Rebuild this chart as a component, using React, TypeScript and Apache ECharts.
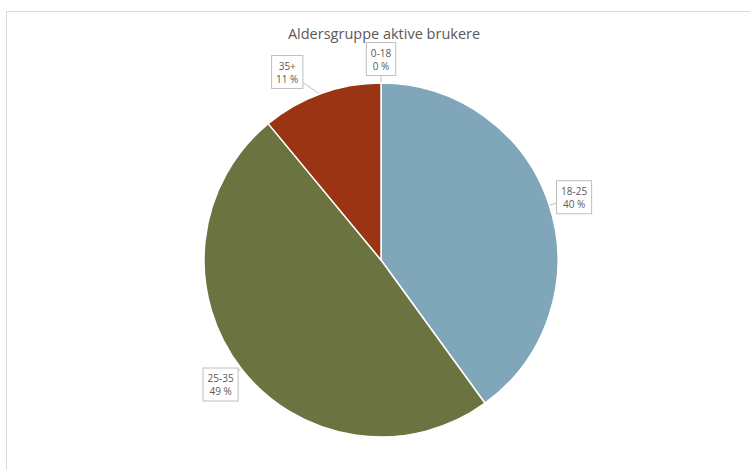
import React, { useEffect, useRef } from "react";
import * as echarts from "echarts";

const TITLE = "Aldersgruppe aktive brukere";
const categories = ["0-18", "18-25", "25-35", "35+"];
const shares = [0, 40, 49, 11];
const colors = ["#4F81BD", "#7FA7B9", "#6B7340", "#9A3412"];

const FONT = "Open Sans";
// small layout nudges for callout boxes (pixels), by category index
const LABEL_NUDGE_X = [0, 0, 0, -25];
const LABEL_NUDGE_Y = [2, 0, 0, 3];

export default function App() {
  const ref = useRef<HTMLDivElement>(null);
  useEffect(() => {
    const chart = echarts.init(ref.current!, null, { renderer: "svg" });
    const cx = 381, cy = 260, R = 177, labelR = 203;
    const total = shares.reduce((a, b) => a + b, 0);
    const mids: number[] = [];
    let acc = 0;
    shares.forEach((v) => {
      mids.push(((acc + v / 2) / total) * 2 * Math.PI);
      acc += v;
    });
    chart.setOption({
      animation: false,
      title: {
        text: TITLE,
        left: 379,
        textAlign: "center",
        top: 21,
        textStyle: { fontFamily: FONT, fontSize: 14.5, fontWeight: "normal", color: "#595959" },
      },
      graphic: [
        { type: "line", shape: { x1: 6, y1: 11.5, x2: 750, y2: 11.5 }, style: { stroke: "#D9D9D9", lineWidth: 1 } },
        { type: "line", shape: { x1: 6.5, y1: 11, x2: 6.5, y2: 470 }, style: { stroke: "#D9D9D9", lineWidth: 1 } },
      ],
      series: [
        {
          type: "pie",
          center: [cx, cy],
          radius: R,
          startAngle: 90,
          clockwise: true,
          avoidLabelOverlap: false,
          percentPrecision: 0,
          data: categories.map((c, i) => ({ name: c, value: shares[i], itemStyle: { color: colors[i] } })),
          itemStyle: { borderColor: "#fff", borderWidth: 1.5 },
          label: {
            show: true,
            position: "outside",
            formatter: "{b}\n{d} %",
            fontFamily: FONT,
            fontSize: 10,
            color: "#595959",
            lineHeight: 13,
            backgroundColor: "#fff",
            borderColor: "#BFBFBF",
            borderWidth: 1,
            padding: [3, 4, 3, 4],
            align: "center",
          },
          labelLine: { show: true, length: 10, length2: 0, lineStyle: { color: "#BFBFBF", width: 1 } },
          labelLayout: (p: any) => {
            const i = p.dataIndex;
            const a = mids[i];
            const x = cx + labelR * Math.sin(a) + LABEL_NUDGE_X[i];
            const y = cy - labelR * Math.cos(a) + LABEL_NUDGE_Y[i];
            return {
              x,
              y,
              align: "center",
              verticalAlign: "middle",
              labelLinePoints: [
                [cx + (R - 2) * Math.sin(a), cy - (R - 2) * Math.cos(a)],
                [x, y],
                [x, y],
              ],
            };
          },
        },
      ],
    });
    return () => chart.dispose();
  }, []);
  return (
    <div
      ref={ref}
      style={{ position: "absolute", left: 0, top: 0, width: 750, height: 470, background: "#fff" }}
    />
  );
}
